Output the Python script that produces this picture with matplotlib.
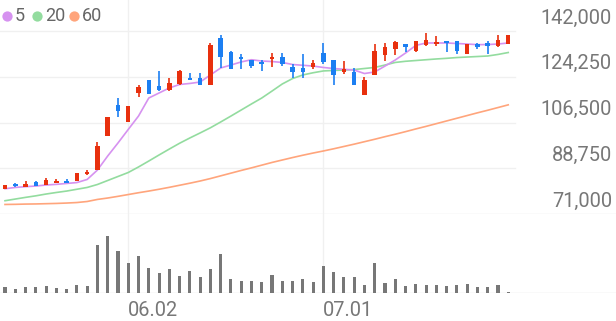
import matplotlib
matplotlib.use("Agg")
import matplotlib.pyplot as plt
import matplotlib.transforms as mtransforms
from matplotlib.lines import Line2D
import numpy as np

# daily candles (KRW), 50 sessions
opens = [80800, 82750, 81350, 83400, 82350, 83150, 83900, 83900, 86500, 88050,
         101400, 113200, 106800, 117950, 123100, 120650, 119000, 121450, 123500, 123750,
         120950, 139300, 133850, 131800, 130650, 129850, 131250, 131800, 128050, 127650,
         128050, 133350, 130650, 126100, 126000, 117300, 125050, 132800, 135150, 137100,
         134150, 136700, 137100, 138250, 138000, 133100, 137100, 137350, 136050, 136950]
highs = [82250, 83150, 83800, 83900, 84850, 84600, 84700, 87000, 88050, 99050,
         108750, 115900, 112900, 121150, 123100, 126600, 123750, 126750, 125600, 125700,
         137350, 140550, 134150, 133100, 130850, 130650, 133600, 133600, 129300, 133100,
         130650, 137350, 130650, 130250, 127650, 124050, 136950, 137350, 138000, 137100,
         138000, 141250, 139950, 138250, 138000, 137100, 137350, 138000, 140350, 140350]
lows = [80800, 81350, 81350, 81850, 82350, 83150, 83300, 83900, 86000, 88050,
        101400, 108500, 106800, 116400, 117550, 118600, 118600, 121150, 123000, 120950,
        120950, 127650, 127150, 127150, 127650, 126350, 127900, 128300, 123750, 123750,
        127400, 129200, 120950, 125300, 120950, 117300, 125050, 130250, 132800, 133850,
        133850, 136050, 136050, 133850, 133100, 133100, 135150, 133100, 135800, 136950]
closes = [82250, 81750, 82750, 81850, 84200, 83800, 83300, 87000, 87200, 97500,
          108750, 111100, 112900, 120300, 117550, 119100, 121850, 126350, 123000, 121150,
          136450, 131900, 127150, 131250, 128300, 129200, 131800, 129200, 126200, 126000,
          129700, 129850, 125050, 127150, 121150, 123100, 134150, 135700, 137750, 135900,
          138000, 138650, 137750, 137250, 134150, 137100, 135900, 136050, 138400, 140350]
volumes = [60, 37, 57, 60, 67, 50, 37, 77, 67, 477,
           573, 420, 300, 373, 247, 200, 240, 167, 223, 160,
           237, 390, 143, 117, 117, 107, 180, 123, 117, 137,
           110, 267, 210, 160, 157, 77, 300, 100, 140, 73,
           90, 80, 77, 73, 77, 87, 57, 63, 80, 10]

ma5 = [80800, 81300, 81600, 81850, 82250, 82500, 82850, 83200, 84400, 88050,
       93500, 98550, 103800, 109000, 116000, 117950, 119900, 121250, 121650, 122200,
       124950, 127650, 128800, 130000, 130850, 130350, 130150, 129800, 129000, 128700,
       128400, 127850, 127450, 127150, 126850, 125500, 126100, 128400, 130750, 133450,
       136400, 137350, 137350, 137350, 137150, 136950, 136700, 136750, 136950, 137350]
ma20 = [76150, 76800, 77450, 78050, 78750, 79350, 79900, 80600, 81300, 82450,
        84000, 85550, 87100, 89250, 91550, 93900, 96200, 98450, 100500, 102450,
        104450, 106700, 109000, 111350, 113700, 116000, 118700, 121450, 123550, 124950,
        125800, 126500, 126700, 126850, 127050, 127450, 127850, 128800, 129800, 130250,
        130550, 130850, 131150, 131400, 131700, 131900, 132100, 132300, 132900, 133650]
ma60 = [74700, 74750, 74850, 74900, 75000, 75100, 75250, 75450, 75850, 76650,
        77200, 77850, 78550, 79250, 79900, 80600, 81350, 82150, 82950, 83800,
        84750, 85800, 86850, 87900, 88900, 89950, 91000, 91950, 92900, 93800,
        94650, 95450, 96300, 97200, 98100, 99050, 100000, 101000, 101950, 102950,
        104000, 105000, 106050, 107100, 108150, 109200, 110250, 111250, 112300, 113350]

price_ticks = [71000, 88750, 106500, 124250, 142000]
date_idx = [12, 31]
date_labels = ["06.02", "07.01"]

UP = "#e8300e"
DOWN = "#1c7ff2"
GRID = "#f0f0f0"
TXT = "#777777"
C5, C20, C60 = "#d692f0", "#93dc9f", "#ffa57c"

plt.rcParams['font.family'] = ['Roboto', 'DejaVu Sans']

W, H = 616, 321
fig = plt.figure(figsize=(W / 100, H / 100), dpi=100)

# pixel layout: x index i -> 5 + 10.27*i ; price 71000 at y=214, 142000 at y=31
step = 10.27
x0 = -5 / step
x1 = (W - 5) / step
ppx = 71000 / 183.0
ax = fig.add_axes([0, 1 - 214 / H, 1, 214 / H])
ax.set_xlim(x0, x1)
ax.set_ylim(71000, 71000 + 214 * ppx)
ax.axis("off")

vax = fig.add_axes([0, 1 - 293 / H, 1, 79 / H])
vax.set_xlim(x0, x1)
vax.set_ylim(0, 790)
vax.axis("off")

grid_frac = 515 / W
for t in price_ticks:
    full = t == price_ticks[0]
    ax.axhline(t, xmin=0, xmax=1 if full else grid_frac,
               color="#e6e6e6" if full else GRID, lw=1, zorder=0)
trans = mtransforms.blended_transform_factory(ax.transAxes, ax.transData)
for t in price_ticks:
    ax.annotate(f"{t:,}", xy=(1, t), xycoords=trans, xytext=(-4 * 0.72, 13 * 0.72),
                textcoords="offset points", ha="right", va="center",
                fontsize=14.4, color=TXT)

for d, lab in zip(date_idx, date_labels):
    ax.axvline(d, color=GRID, lw=1, zorder=0)
    vax.axvline(d, color=GRID, lw=1, zorder=0)
    vax.annotate(lab, xy=(d, 0), xycoords="data", xytext=(0, -17 * 0.72),
                 textcoords="offset points", ha="left", va="center",
                 fontsize=14.4, color=TXT)

vax.axhline(0, color="#e3e3e3", lw=1, zorder=1)

xs = np.arange(len(closes))
ax.plot(xs, ma60, color=C60, lw=1.2, zorder=2)
ax.plot(xs, ma20, color=C20, lw=1.2, zorder=2)
ax.plot(xs, ma5, color=C5, lw=1.2, zorder=2)

for i in range(len(closes)):
    o, h, l, c = opens[i], highs[i], lows[i], closes[i]
    col = UP if c >= o else DOWN
    ax.vlines(i, l, h, color=col, lw=1.2, zorder=3)
    lo, hi = min(o, c), max(o, c)
    if hi - lo < 2 * ppx:
        mid = (hi + lo) / 2
        lo, hi = mid - ppx, mid + ppx
    ax.bar(i, hi - lo, bottom=lo, width=0.44, color=col, zorder=4, linewidth=0)

vax.bar(xs, volumes, width=0.3, color="#777777", zorder=2, linewidth=0)

# legend
legend_items = [("5", C5, 7), ("20", C20, 37), ("60", C60, 74)]
for lab, col, px in legend_items:
    fig.add_artist(Line2D([px / W], [1 - 15.5 / H], marker="o", markersize=7.4,
                          color=col, markeredgewidth=0, transform=fig.transFigure))
    fig.text((px + 8) / W, 1 - 16 / H, lab, fontsize=13, color="#666666",
             va="center", ha="left")

fig.savefig("out.png", dpi=100)
